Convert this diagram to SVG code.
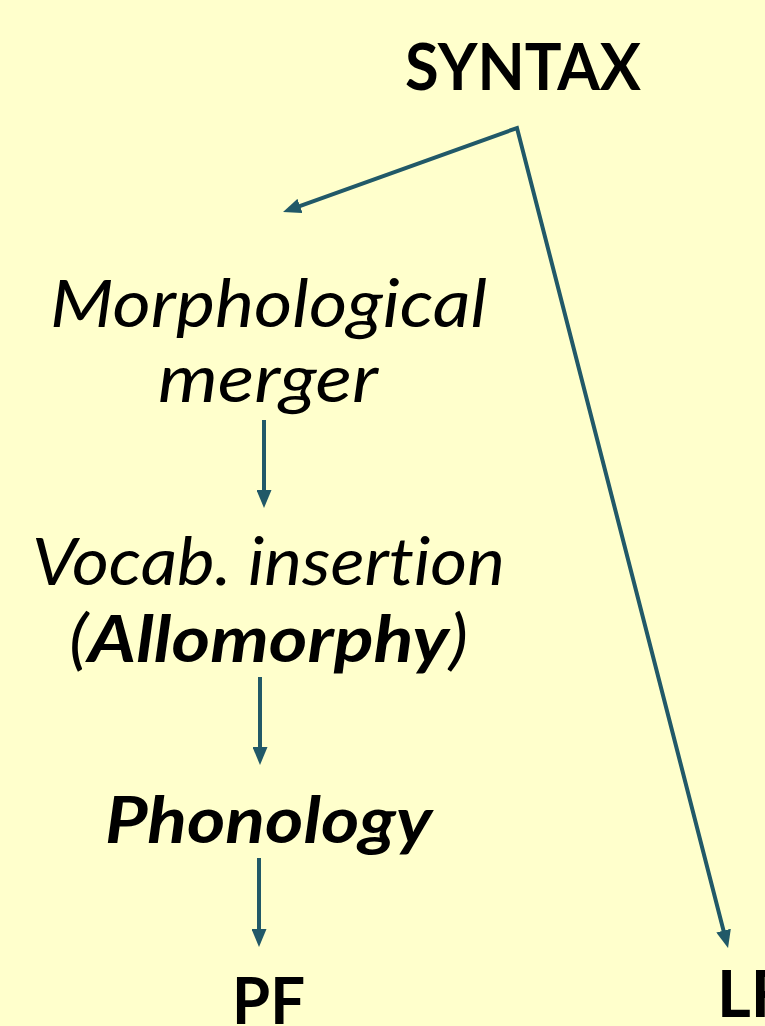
<svg xmlns="http://www.w3.org/2000/svg" width="765" height="1026" viewBox="0 0 765 1026">
<defs>
<style>
.t{font-family:Lato,"Open Sans","Liberation Sans",sans-serif;font-size:65px;fill:#000;font-variant-ligatures:none;font-feature-settings:"liga" 0}
.b{font-weight:bold}
.i{font-style:italic}
.c{fill:none;stroke:#215968;stroke-width:4;stroke-linejoin:miter}
</style>
<marker id="ah" markerUnits="userSpaceOnUse" markerWidth="18" markerHeight="15" viewBox="0 0 18 15" refX="7" refY="7.5" orient="auto-start-reverse">
<path d="M0,0 L18,7.5 L0,15 z" fill="#215968"/>
</marker>
</defs>
<rect width="765" height="1026" fill="#FFFFCC"/>
<g id="connectors">
<path class="c" d="M293.4,208.3 L517,128 L725.3,937.4" marker-start="url(#ah)" marker-end="url(#ah)"/>
<line class="c" x1="264" y1="420" x2="264" y2="497" marker-end="url(#ah)"/>
<line class="c" x1="260" y1="677" x2="260" y2="754" marker-end="url(#ah)"/>
<line class="c" x1="259" y1="858" x2="259" y2="936" marker-end="url(#ah)"/>
</g>
<g id="syntax"><text class="t b" x="405" y="90" textLength="236" lengthAdjust="spacingAndGlyphs">SYNTAX</text></g>
<g id="merger">
<text class="t i" x="50" y="327" textLength="437" lengthAdjust="spacingAndGlyphs">Morphological</text>
<text class="t i" x="158" y="402" textLength="220" lengthAdjust="spacingAndGlyphs">merger</text>
</g>
<g id="vocab">
<text class="t i" x="32" y="585" textLength="473" lengthAdjust="spacingAndGlyphs">Vocab. insertion</text>
<text class="t i" x="69" y="662" textLength="399" lengthAdjust="spacingAndGlyphs">(<tspan class="b">Allomorphy</tspan>)</text>
</g>
<g id="phonology"><text class="t b i" x="105" y="843" textLength="327" lengthAdjust="spacingAndGlyphs">Phonology</text></g>
<g id="pf"><text class="t b" x="232" y="1024" textLength="73" lengthAdjust="spacingAndGlyphs">PF</text></g>
<g id="lf"><text class="t b" x="717" y="1017">LF</text></g>
</svg>
